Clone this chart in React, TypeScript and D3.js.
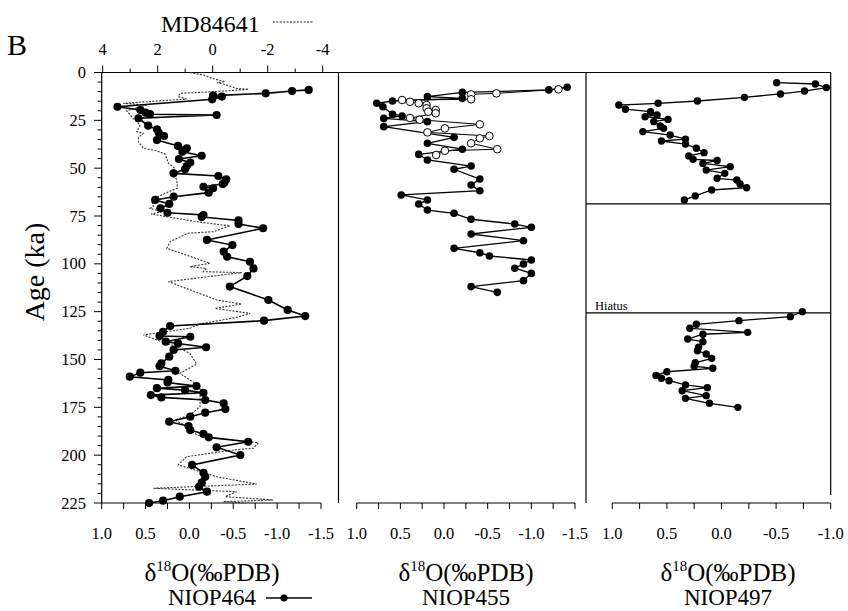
import React from 'react';
import * as d3 from 'd3';

// ---------- data ----------
const ageMajorTicks = [0, 25, 50, 75, 100, 125, 150, 175, 200, 225];
const topTicks = [4, 2, 0, -2, -4];
const topMinorTicks = [3, 1, -1, -3];
const bottomTicksAB = [1.0, 0.5, 0.0, -0.5, -1.0, -1.5];
const bottomTicksC = [1.0, 0.5, 0.0, -0.5, -1.0];
const hiatusAges = [68.7, 125.6];

const niop464Age = [9.1, 9.7, 10.9, 12.1, 12.6, 14.0, 17.9, 19.6, 21.0, 21.8, 22.2, 23.9, 27.8, 29.7, 31.5, 33.2, 35.3, 38.4, 39.6, 41.4, 43.5, 45.2, 47.1, 48.9, 50.6, 52.7, 54.1, 55.8, 57.5, 58.3, 59.7, 60.5, 62.8, 64.9, 66.6, 68.7, 71.0, 73.3, 74.5, 75.5, 77.3, 79.2, 81.4, 87.5, 90.2, 93.6, 96.3, 98.9, 102.4, 106.4, 111.9, 118.9, 124.1, 127.3, 129.7, 132.5, 135.5, 137.7, 138.1, 140.7, 141.6, 143.6, 145.0, 148.5, 152.0, 153.5, 155.9, 156.9, 159.0, 160.7, 162.0, 163.9, 165.0, 166.0, 167.4, 168.6, 169.8, 171.2, 172.9, 175.9, 177.8, 179.9, 182.5, 184.8, 186.9, 188.9, 190.7, 193.0, 195.9, 199.9, 205.1, 209.2, 211.3, 214.4, 216.5, 219.1, 221.7, 223.8, 225.0];
const niop464Val = [-1.36, -1.17, -0.87, -0.27, -0.37, -0.26, 0.82, 0.56, 0.50, 0.45, -0.31, 0.58, 0.47, 0.37, 0.35, 0.29, 0.37, 0.13, 0.03, 0.08, -0.14, 0.12, -0.01, 0.03, 0.05, 0.18, -0.33, -0.42, -0.40, -0.38, -0.16, -0.27, -0.22, 0.18, 0.39, 0.23, 0.33, 0.25, -0.16, -0.14, -0.56, -0.56, -0.84, -0.20, -0.49, -0.39, -0.43, -0.69, -0.73, -0.66, -0.46, -0.90, -1.12, -1.32, -0.85, 0.22, 0.30, 0.34, -0.01, 0.27, 0.13, -0.19, 0.18, 0.23, 0.32, 0.34, 0.16, 0.56, 0.68, 0.24, 0.25, -0.08, 0.37, 0.05, -0.16, 0.44, 0.32, -0.18, -0.39, -0.41, -0.18, -0.01, 0.23, 0.01, -0.01, -0.16, -0.22, -0.67, -0.31, -0.58, -0.03, -0.16, -0.18, -0.14, -0.11, -0.20, 0.11, 0.30, 0.46];

const md84641Age = [0, 1.3, 3.0, 4.8, 5.3, 6.5, 8.3, 8.8, 9.5, 10.4, 10.9, 12.6, 13.9, 16.1, 17.0, 20.0, 24.0, 27.4, 30.9, 31.8, 33.9, 36.2, 39.6, 40.9, 42.6, 47.5, 50.1, 51.8, 53.6, 55.8, 58.8, 60.5, 63.1, 66.6, 70.1, 71.0, 72.7, 74.0, 78.0, 80.2, 83.2, 84.0, 88.4, 91.9, 99.7, 101.5, 102.4, 104.1, 104.6, 109.3, 118.9, 121.0, 123.3, 125.9, 128.0, 131.4, 133.7, 137.2, 141.6, 143.3, 146.8, 152.4, 157.2, 164.2, 169.0, 174.7, 179.0, 181.6, 185.1, 189.5, 191.2, 193.5, 196.4, 197.3, 200.8, 205.1, 211.3, 215.1, 217.3, 219.1, 221.7, 223.4, 224.3, 225.0];
const md84641Val = [0.83, 0.34, 0.04, -0.45, -0.15, -0.5, -0.87, -1.3, -0.63, 0.46, 1.19, 1.25, 0.95, 3.25, 2.4, 3.13, 2.89, 2.64, 2.76, 2.52, 2.7, 2.7, 2.52, 2.04, 1.73, 1.61, 1.37, 1.55, 1.49, 1.31, 1.29, 1.29, 1.73, 2.22, 2.16, 2.28, 1.85, 2.24, 0.58, -0.63, -0.02, 0.89, 1.55, 1.67, 0.1, 0.83, 0.22, 0.34, -1.05, 1.61, -0.15, -1.05, -0.08, -1.36, -0.87, 0.46, 0.83, 2.52, 1.67, 1.31, 0.83, 0.58, 1.19, 0.46, 0.46, 0.46, 0.83, 1.37, 0.95, 0.58, -0.15, -1.66, -1.48, -0.75, 0.95, 1.25, -0.15, -1.6, 2.16, -0.87, -0.45, -2.2, -0.39, -1.2];

const niop455FilledAge = [7.7, 9.1, 10.4, 12.6, 13.5, 14.9, 16.1, 17.9, 21.8, 22.7, 24.0, 25.7, 28.3, 33.9, 37.0, 40.1, 42.8, 45.7, 48.9, 50.6, 55.7, 58.8, 61.8, 64.0, 66.6, 68.7, 71.9, 73.6, 76.7, 79.2, 80.9, 84.4, 87.9, 91.9, 94.2, 95.9, 98.0, 100.1, 102.3, 105.0, 108.8, 111.9, 114.9];
const niop455FilledVal = [-1.41, -1.2, -0.21, 0.19, -0.21, 0.59, 0.77, 0.7, 0.59, 0.48, 0.69, 0.19, 0.69, -0.115, 0.19, -0.21, 0.29, 0.19, -0.31, -0.115, -0.41, -0.31, -0.41, 0.49, 0.19, 0.29, 0.19, -0.115, -0.31, -0.81, -1.0, -0.31, -0.91, -0.115, -0.41, -0.52, -1.0, -0.91, -0.81, -1.0, -0.91, -0.31, -0.61];
const niop455OpenAge = [8.8, 10.9, 11.4, 14.0, 14.4, 15.3, 16.1, 17.0, 18.7, 19.6, 20.5, 21.3, 23.8, 24.7, 27.1, 29.2, 31.3, 33.2, 34.4, 37.0, 40.1, 40.9, 43.1];
const niop455OpenVal = [-1.31, -0.6, -0.31, -0.31, 0.48, 0.39, 0.29, 0.2, 0.2, 0.095, 0.18, 0.095, 0.39, 0.28, -0.41, -0.01, 0.19, -0.52, -0.41, -0.31, -0.61, -0.01, 0.09];

const niop497UpperAge = [5.3, 6.0, 7.9, 9.7, 11.2, 13.0, 14.9, 16.1, 17.0, 19.2, 20.5, 22.2, 23.1, 24.5, 25.7, 28.0, 29.2, 30.9, 32.7, 34.8, 35.8, 37.4, 39.6, 41.9, 43.6, 45.4, 46.0, 47.5, 49.2, 51.0, 52.7, 55.3, 56.2, 58.3, 60.2, 61.4, 64.5, 66.6];
const niop497UpperVal = [-0.505, -0.86, -0.96, -0.76, -0.54, -0.21, 0.22, 0.58, 0.94, 0.88, 0.65, 0.59, 0.70, 0.49, 0.62, 0.56, 0.53, 0.72, 0.47, 0.33, 0.55, 0.33, 0.23, 0.16, 0.30, 0.26, 0.04, 0.17, -0.08, 0.14, -0.03, 0.04, -0.14, -0.17, -0.23, 0.09, 0.24, 0.34];
const niop497LowerAge = [125.0, 127.6, 129.7, 131.6, 133.7, 135.8, 136.8, 139.3, 140.7, 143.6, 145.4, 147.1, 149.4, 151.7, 153.5, 154.6, 156.4, 158.3, 159.8, 161.1, 163.3, 164.7, 166.3, 168.9, 170.3, 172.9, 175.0];
const niop497LowerVal = [-0.74, -0.63, -0.16, 0.23, 0.29, -0.24, 0.17, 0.31, 0.17, 0.21, 0.22, 0.14, 0.09, 0.24, 0.25, 0.08, 0.50, 0.60, 0.55, 0.48, 0.33, 0.13, 0.36, 0.14, 0.33, 0.11, -0.15];

// ---------- layout ----------
const W = 848, H = 611;
const Y0 = 72.5, Y1 = 503;
const FONT = 'Liberation Serif';

const y = d3.scaleLinear().domain([0, 225]).range([Y0, Y1]);
const xA = d3.scaleLinear().domain([1.0, -1.5]).range([101.7, 321]);
const xTop = d3.scaleLinear().domain([4, -4]).range([102.7, 322.7]);
const xB = d3.scaleLinear().domain([1.0, -1.5]).range([356.7, 575]);
const xC = d3.scaleLinear().domain([1.0, -1.0]).range([612.3, 830.7]);

const fmt = (v: number) => v.toFixed(1);

function zipPts(ages: number[], vals: number[]) {
  return ages.map((a, i) => ({ a, v: vals[i] }));
}

function makeLine(xs: d3.ScaleLinear<number, number>) {
  return d3.line<{ a: number; v: number }>().x(d => xs(d.v)).y(d => y(d.a));
}

function BottomAxis({ scale, ticks }: { scale: d3.ScaleLinear<number, number>; ticks: number[] }) {
  const [d0, d1] = scale.domain();
  const minor = d3.range(0, Math.round((d0 - d1) / 0.25) + 1).map(i => d0 - i * 0.25);
  return (
    <g>
      <line x1={scale(d0)} x2={scale(d1)} y1={Y1} y2={Y1} stroke="#000" strokeWidth={1.2} />
      {minor.map((t, i) => (
        <line key={i} x1={scale(t)} x2={scale(t)} y1={Y1} y2={Y1 + 6} stroke="#000" strokeWidth={1} />
      ))}
      {ticks.map((t, i) => (
        <text key={i} x={scale(t)} y={539} textAnchor="middle" fontSize={16.5}>{fmt(t)}</text>
      ))}
    </g>
  );
}

function DeltaLabel({ cx, name }: { cx: number; name: string }) {
  return (
    <g>
      <text x={cx} y={581} textAnchor="middle" fontSize={25}>
        δ<tspan fontSize={15} dy={-10}>18</tspan><tspan dy={10}>O(‰PDB)</tspan>
      </text>
      <text x={cx} y={605} textAnchor="middle" fontSize={23}>{name}</text>
    </g>
  );
}

export default function App() {
  const p464 = zipPts(niop464Age, niop464Val);
  const pMD = zipPts(md84641Age, md84641Val);
  const p455f = zipPts(niop455FilledAge, niop455FilledVal);
  const p455o = zipPts(niop455OpenAge, niop455OpenVal);
  const p497u = zipPts(niop497UpperAge, niop497UpperVal);
  const p497l = zipPts(niop497LowerAge, niop497LowerVal);

  const lineA = makeLine(xA);
  const lineTop = makeLine(xTop);
  const lineB = makeLine(xB);
  const lineC = makeLine(xC);

  const minorAges = d3.range(0, 226, 5).filter(a => a % 25 !== 0);

  return (
    <svg width={W} height={H} viewBox={`0 0 ${W} ${H}`} fontFamily={FONT}
      style={{ position: 'absolute', left: 0, top: 0, background: '#fff', fontFamily: FONT }}>
      <rect x={0} y={0} width={W} height={H} fill="#fff" />
      {/* panel label */}
      <text x={7} y={55} fontSize={30}>B</text>

      {/* MD84641 title + legend */}
      <text x={161} y={32} fontSize={24}>MD84641</text>
      <line x1={273} x2={313} y1={22} y2={22} stroke="#222" strokeWidth={1.1} strokeDasharray="2,1.4" />

      {/* top axis */}
      <line x1={96} x2={338} y1={Y0} y2={Y0} stroke="#000" strokeWidth={1.2} />
      {topTicks.map((t, i) => (
        <g key={i}>
          <line x1={xTop(t)} x2={xTop(t)} y1={Y0 - 7} y2={Y0} stroke="#000" strokeWidth={1} />
          <text x={xTop(t)} y={55} textAnchor="middle" fontSize={16.5}>{String(t)}</text>
        </g>
      ))}
      {topMinorTicks.map((t, i) => (
        <line key={i} x1={xTop(t)} x2={xTop(t)} y1={Y0 - 4} y2={Y0} stroke="#000" strokeWidth={1} />
      ))}

      {/* left y axis */}
      <line x1={101.7} x2={101.7} y1={Y0} y2={Y1} stroke="#000" strokeWidth={1.2} />
      {ageMajorTicks.map((a, i) => (
        <g key={i}>
          <line x1={94} x2={101.7} y1={y(a)} y2={y(a)} stroke="#000" strokeWidth={1} />
          <text x={86} y={y(a) + 5.5} textAnchor="end" fontSize={16.5}>{a}</text>
        </g>
      ))}
      {minorAges.map((a, i) => (
        <line key={i} x1={97.5} x2={101.7} y1={y(a)} y2={y(a)} stroke="#000" strokeWidth={1} />
      ))}
      <text transform={`translate(44, 272) rotate(-90)`} textAnchor="middle" fontSize={28}>Age (ka)</text>

      {/* panel frames */}
      <line x1={338} x2={831} y1={Y0} y2={Y0} stroke="#000" strokeWidth={1.2} />
      <line x1={338.5} x2={338.5} y1={Y0} y2={Y1} stroke="#000" strokeWidth={1.2} />
      <line x1={586} x2={586} y1={Y0} y2={Y1} stroke="#000" strokeWidth={1.2} />
      <line x1={830.7} x2={830.7} y1={Y0} y2={Y1 - 8} stroke="#000" strokeWidth={1.2} />
      {hiatusAges.map((a, i) => (
        <line key={i} x1={586} x2={830.7} y1={y(a)} y2={y(a)} stroke="#000" strokeWidth={1.2} />
      ))}
      <text x={595} y={y(hiatusAges[1]) - 3} fontSize={12.5}>Hiatus</text>

      {/* bottom axes */}
      <BottomAxis scale={xA} ticks={bottomTicksAB} />
      <BottomAxis scale={xB} ticks={bottomTicksAB} />
      <BottomAxis scale={xC} ticks={bottomTicksC} />

      {/* panel A: MD84641 dotted + NIOP464 */}
      <path d={lineTop(pMD) || ''} fill="none" stroke="#333" strokeWidth={1.1} strokeDasharray="2,1.4" />
      <path d={lineA(p464) || ''} fill="none" stroke="#000" strokeWidth={1.6} />
      {p464.map((d, i) => (
        <circle key={i} cx={xA(d.v)} cy={y(d.a)} r={4.1} fill="#000" />
      ))}

      {/* panel B: NIOP455 */}
      <path d={lineB(p455o) || ''} fill="none" stroke="#000" strokeWidth={1} />
      <path d={lineB(p455f) || ''} fill="none" stroke="#000" strokeWidth={1.3} />
      {p455f.map((d, i) => (
        <circle key={i} cx={xB(d.v)} cy={y(d.a)} r={3.8} fill="#000" />
      ))}
      {p455o.map((d, i) => (
        <circle key={i} cx={xB(d.v)} cy={y(d.a)} r={3.8} fill="#fff" stroke="#000" strokeWidth={1} />
      ))}

      {/* panel C: NIOP497 */}
      <path d={lineC(p497u) || ''} fill="none" stroke="#000" strokeWidth={1.3} />
      <path d={lineC(p497l) || ''} fill="none" stroke="#000" strokeWidth={1.3} />
      {p497u.concat(p497l).map((d, i) => (
        <circle key={i} cx={xC(d.v)} cy={y(d.a)} r={3.7} fill="#000" />
      ))}

      {/* axis titles */}
      <DeltaLabel cx={212} name="NIOP464" />
      <DeltaLabel cx={466} name="NIOP455" />
      <DeltaLabel cx={728} name="NIOP497" />

      {/* NIOP464 legend symbol */}
      <line x1={266} x2={312} y1={598} y2={598} stroke="#000" strokeWidth={1.3} />
      <circle cx={284} cy={598} r={3.6} fill="#000" />
    </svg>
  );
}
